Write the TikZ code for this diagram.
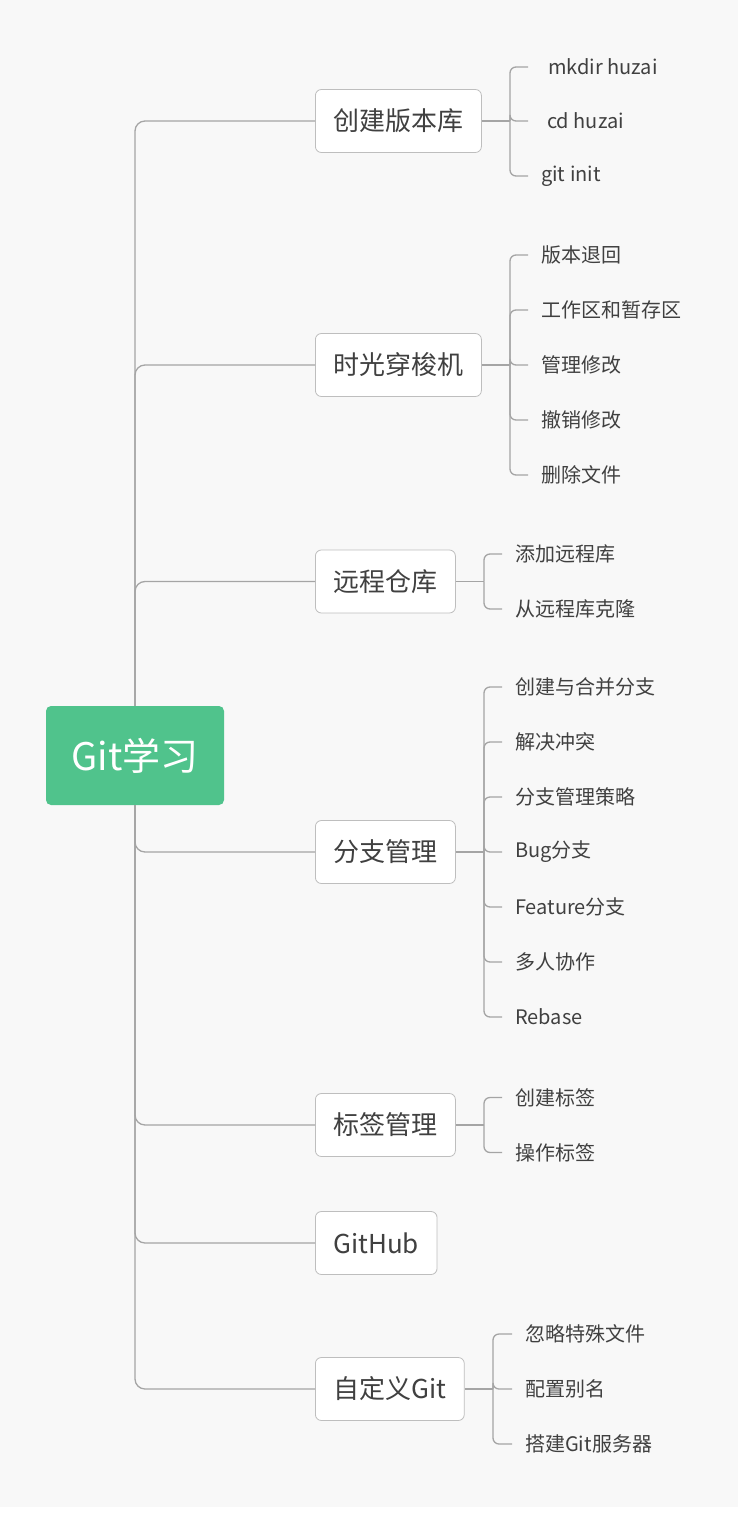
\documentclass[tikz,border=0pt]{standalone}
\usepackage{fontspec}
\setmainfont{Noto Sans CJK SC}

\definecolor{bgcol}{RGB}{248,248,248}
\definecolor{rootgreen}{RGB}{80,195,140}
\definecolor{boxgray}{RGB}{190,190,190}
\definecolor{linegray}{RGB}{165,165,165}
\definecolor{txtgray}{RGB}{64,64,64}

\tikzset{
  root/.style={fill=rootgreen, text=white, rounded corners=5pt, minimum width=178pt, minimum height=99pt, font=\fontsize{38}{44}\selectfont},
  topic/.style={draw=boxgray, fill=white, line width=0.8pt, rounded corners=6pt, minimum height=63pt, inner xsep=18pt, anchor=west, text=txtgray, font=\fontsize{26}{30}\selectfont},
  leaf/.style={anchor=west, inner xsep=13pt, inner ysep=2pt, text=txtgray, font=\fontsize{20}{24}\selectfont},
  trunk/.style={draw=linegray, line width=1.3pt, rounded corners=10pt},
  twig/.style={draw=linegray, line width=1.3pt, rounded corners=6pt},
}

\begin{document}
\begin{tikzpicture}[x=1pt,y=-1pt]
    \useasboundingbox (0,0) rectangle (742,1517);
    \fill[bgcol] (0,0) rectangle (738,1507);

    % root and topics
    \node[root] (git) at (135,755.5) {Git学习};
    \node[topic] (repo) at (315,121) {创建版本库};
    \node[topic] (time) at (315,365) {时光穿梭机};
    \node[topic] (remote) at (315,581.5) {远程仓库};
    \node[topic] (branch) at (315,852) {分支管理};
    \node[topic] (tag) at (315,1125) {标签管理};
    \node[topic] (hub) at (315,1243) {GitHub};
    \node[topic] (custom) at (315,1389) {自定义Git};

    \draw[trunk] (git.north) |- (repo.west);
    \draw[trunk] (git.north) |- (time.west);
    \draw[trunk] (git.north) |- (remote.west);
    \draw[trunk] (git.south) |- (branch.west);
    \draw[trunk] (git.south) |- (tag.west);
    \draw[trunk] (git.south) |- (hub.west);
    \draw[trunk] (git.south) |- (custom.west);

    % 创建版本库
    \coordinate (repob) at (510,121);
    \node[leaf, inner xsep=20pt] (mkdir) at (528,67) {mkdir huzai};
    \node[leaf, inner xsep=19pt] (cd) at (528,121) {cd huzai};
    \node[leaf] (init) at (528,176) {git init};
    \draw[twig] (repo.east) -- (repob);
    \draw[twig] (repob) |- (mkdir.west);
    \draw[twig] (repob) |- (cd.west);
    \draw[twig] (repob) |- (init.west);

    % 时光穿梭机
    \coordinate (timeb) at (510,365);
    \node[leaf] (reset) at (528,255) {版本退回};
    \node[leaf] (stage) at (528,310) {工作区和暂存区};
    \node[leaf] (manage) at (528,365) {管理修改};
    \node[leaf] (undo) at (528,420) {撤销修改};
    \node[leaf] (delete) at (528,475) {删除文件};
    \draw[twig] (time.east) -- (timeb);
    \draw[twig] (timeb) |- (reset.west);
    \draw[twig] (timeb) |- (stage.west);
    \draw[twig] (timeb) |- (manage.west);
    \draw[twig] (timeb) |- (undo.west);
    \draw[twig] (timeb) |- (delete.west);

    % 远程仓库
    \coordinate (remoteb) at (484,581.5);
    \node[leaf] (addremote) at (502,554) {添加远程库};
    \node[leaf] (clone) at (502,609) {从远程库克隆};
    \draw[twig] (remote.east) -- (remoteb);
    \draw[twig] (remoteb) |- (addremote.west);
    \draw[twig] (remoteb) |- (clone.west);

    % 分支管理
    \coordinate (branchb) at (484,852);
    \node[leaf] (merge) at (502,687) {创建与合并分支};
    \node[leaf] (conflict) at (502,742) {解决冲突};
    \node[leaf] (policy) at (502,797) {分支管理策略};
    \node[leaf] (bug) at (502,852) {Bug分支};
    \node[leaf] (feature) at (502,907) {Feature分支};
    \node[leaf] (team) at (502,962) {多人协作};
    \node[leaf] (rebase) at (502,1017) {Rebase};
    \draw[twig] (branch.east) -- (branchb);
    \draw[twig] (branchb) |- (merge.west);
    \draw[twig] (branchb) |- (conflict.west);
    \draw[twig] (branchb) |- (policy.west);
    \draw[twig] (branchb) |- (bug.west);
    \draw[twig] (branchb) |- (feature.west);
    \draw[twig] (branchb) |- (team.west);
    \draw[twig] (branchb) |- (rebase.west);

    % 标签管理
    \coordinate (tagb) at (484,1125);
    \node[leaf] (newtag) at (502,1097.5) {创建标签};
    \node[leaf] (optag) at (502,1152.5) {操作标签};
    \draw[twig] (tag.east) -- (tagb);
    \draw[twig] (tagb) |- (newtag.west);
    \draw[twig] (tagb) |- (optag.west);

    % 自定义Git
    \coordinate (customb) at (493,1389);
    \node[leaf] (ignore) at (512,1334) {忽略特殊文件};
    \node[leaf] (alias) at (512,1389) {配置别名};
    \node[leaf] (server) at (512,1444) {搭建Git服务器};
    \draw[twig] (custom.east) -- (customb);
    \draw[twig] (customb) |- (ignore.west);
    \draw[twig] (customb) |- (alias.west);
    \draw[twig] (customb) |- (server.west);

\end{tikzpicture}
\end{document}
